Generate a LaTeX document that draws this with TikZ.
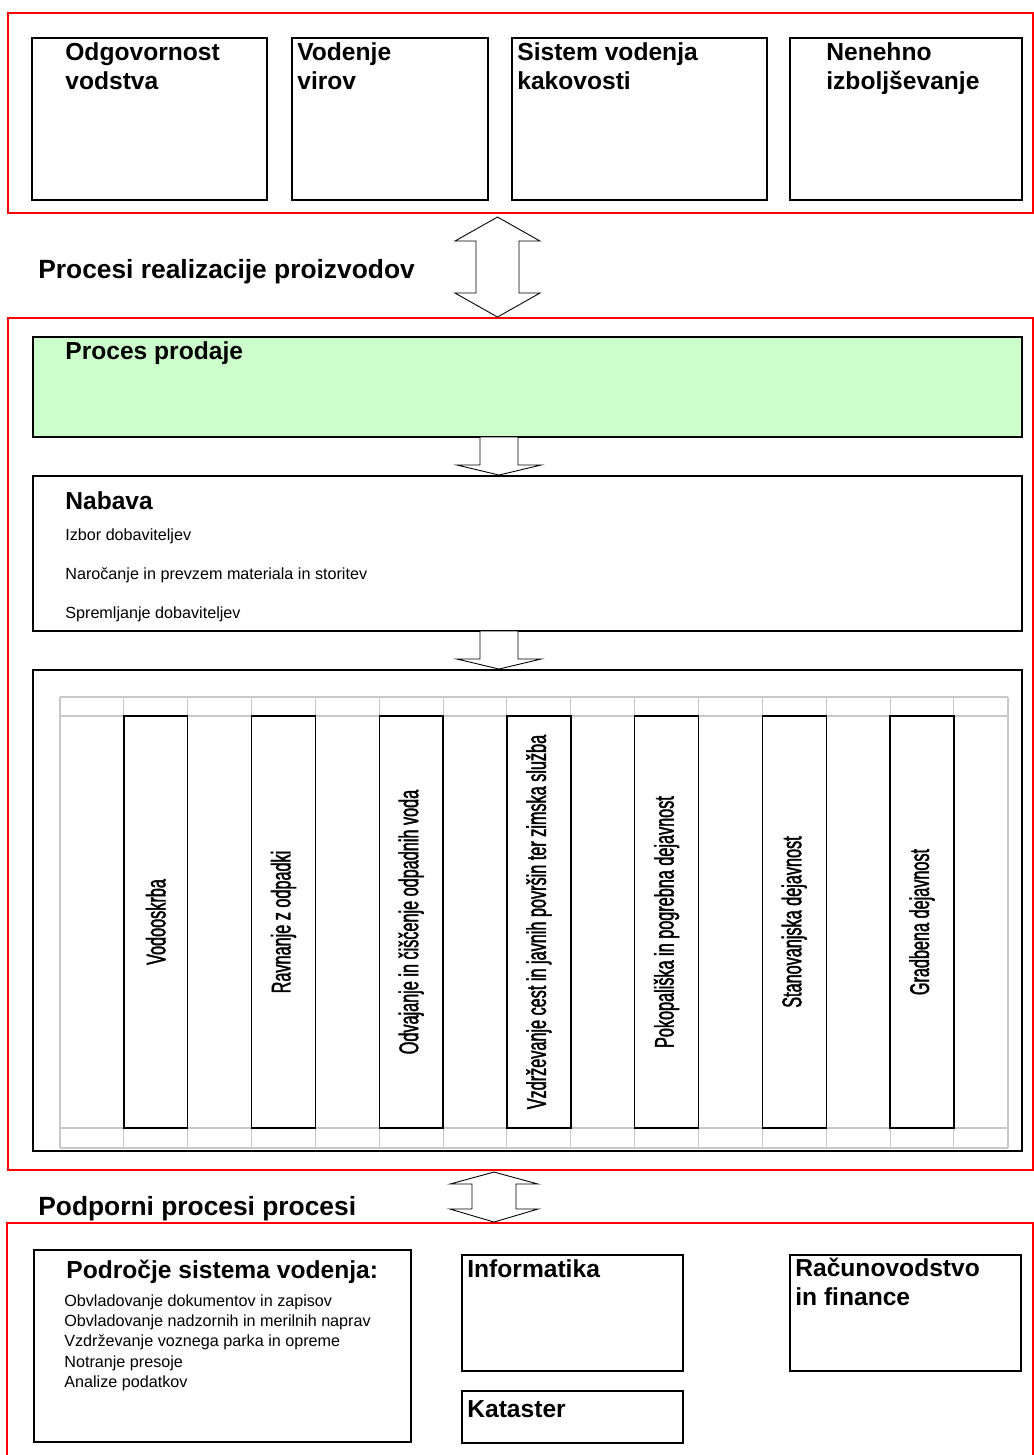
\documentclass[tikz,border=0pt]{standalone}
\usepackage{fontspec}
\setmainfont{Liberation Sans}
\newfontfamily\lanefont[FakeStretch=0.6,FakeBold=1.5]{Liberation Sans}
\usepackage{tikz}
\usetikzlibrary{fit}
\definecolor{prodajagreen}{HTML}{CCFFCC}
\definecolor{gridgray}{HTML}{C8C8C8}

\begin{document}
\begin{tikzpicture}[x=0.02cm,y=-0.02cm,
    frame/.style={draw=red, line width=1.1pt, inner sep=0pt},
    box/.style={draw, line width=1.1pt, inner sep=0pt},
    thinbox/.style={draw, line width=0.6pt, inner sep=0pt},
    lane/.style={draw, line width=0.8pt, inner sep=0pt, minimum width=1.277cm, minimum height=8.24cm},
    head/.style={font=\bfseries\fontsize{14}{16}\selectfont, anchor=base west, align=left, inner sep=0pt},
    title/.style={font=\bfseries\fontsize{15}{18}\selectfont, anchor=base west, inner sep=0pt},
    item/.style={font=\fontsize{9.2}{11}\selectfont, anchor=base west, inner sep=0pt},
    lanetext/.style={font=\lanefont\fontsize{15.4}{18}\selectfont, rotate=90, inner sep=0pt},
    blockarrow/.style={draw, fill=white, line width=0.5pt, line join=miter}]
	\useasboundingbox (0,0) rectangle (1034,1455);
	\clip (0,0) rectangle (1034,1455);

	\node[frame, fit={(8,13) (1033,213)}] (uprava) {};
	\node[frame, fit={(8,318) (1033,1170)}] (realizacija) {};
	\node[frame, fit={(7,1223) (1033,1470)}] (podpora) {};

	\node[box, fit={(32,38) (267,200)}] (odgovornost) {};
	\node[box, fit={(292,38) (488,200)}] (viri) {};
	\node[box, fit={(512,38) (767,200)}] (sistem) {};
	\node[box, fit={(790,38) (1022,200)}] (izboljsevanje) {};
	\node[head] (odgovornosttxt) at (65,89) {Odgovornost\\vodstva};
	\node[head] (viritxt) at (297,89) {Vodenje\\virov};
	\node[head] (sistemtxt) at (517,89) {Sistem vodenja\\kakovosti};
	\node[head] (izboljsevanjetxt) at (826,89) {Nenehno\\izboljševanje};

	\node[title] (realizacijatxt) at (38,278) {Procesi realizacije proizvodov};
	\coordinate (dx) at (497.5,0);
	\draw[blockarrow] (dx |- realizacija.north) -- ++(-42.5,-24) -- ++(21,0) -- ++(0,-52) -- ++(-21,0) -- ++(42.5,-24) -- ++(42.5,24) -- ++(-21,0) -- ++(0,52) -- ++(21,0) -- cycle;

	\node[box, fill=prodajagreen, fit={(33,337) (1022,437)}] (prodaja) {};
	\node[head] (prodajatxt) at (65,359) {Proces prodaje};

	\node[box, fit={(33,476) (1022,631)}] (nabava) {};
	\node[head] (nabavatxt) at (65,509) {Nabava};
	\node[item] (izbor) at (65,540) {Izbor dobaviteljev};
	\node[item] (narocanje) at (65,579) {Naročanje in prevzem materiala in storitev};
	\node[item] (spremljanje) at (65,618) {Spremljanje dobaviteljev};

	\node[box, fit={(33,670) (1022,1151)}] (sluzbe) {};
	\foreach \k in {0,...,14}
		\draw[gridgray, line width=0.6pt] ({60+63.85*\k},697) -- ({60+63.85*\k},1148);
	\draw[gridgray, line width=0.6pt] (1008,697) -- (1008,1148);
	\foreach \y in {697,716,1128,1148}
		\draw[gridgray, line width=0.6pt] (60,\y) -- (1008,\y);
	\foreach \i/\txt in {0/Vodooskrba, 1/Ravnanje z odpadki, 2/Odvajanje in čiščenje odpadnih voda,
		3/Vzdrževanje cest in javnih površin ter zimska služba, 4/Pokopališka in pogrebna dejavnost,
		5/Stanovanjska dejavnost, 6/Gradbena dejavnost} {
		\node[lane, fill=white] (lane\i) at ({155.78+127.7*\i},922) {};
		\node[lanetext] (lanetxt\i) at (lane\i.center) {\txt};
	}

	\coordinate (ax) at (499,0);
	\draw[blockarrow] (ax |- nabava.north) -- ++(-42,-10) -- ++(23,0) -- ++(0,-28) -- ++(38,0) -- ++(0,28) -- ++(23,0) -- cycle;
	\draw[blockarrow] (ax |- sluzbe.north) -- ++(-42,-10) -- ++(23,0) -- ++(0,-28) -- ++(38,0) -- ++(0,28) -- ++(23,0) -- cycle;

	\node[title] (podporatxt) at (38,1215) {Podporni procesi procesi};
	\coordinate (px) at (494,0);
	\draw[blockarrow] (px |- podpora.north) -- ++(-44,-13) -- ++(22,0) -- ++(0,-25) -- ++(-22,0) -- ++(44,-12) -- ++(44,12) -- ++(-22,0) -- ++(0,25) -- ++(22,0) -- cycle;

	\node[thinbox, fit={(34,1250) (411,1442)}] (podrocje) {};
	\node[head] (podrocjetxt) at (66,1278) {Področje sistema vodenja:};
	\foreach \i/\txt in {0/Obvladovanje dokumentov in zapisov, 1/Obvladovanje nadzornih in merilnih naprav,
		2/Vzdrževanje voznega parka in opreme, 3/Notranje presoje, 4/Analize podatkov}
		\node[item] (podrocje\i) at (64,{1306+20.4*\i}) {\txt};

	\node[box, fit={(462,1255) (683,1371)}] (informatika) {};
	\node[head] (informatikatxt) at (467,1277) {Informatika};
	\node[box, fit={(462,1391) (683,1443)}] (kataster) {};
	\node[head] (katastertxt) at (467,1417) {Kataster};
	\node[box, fit={(790,1255) (1021,1371)}] (racunovodstvo) {};
	\node[head] (racunovodstvotxt) at (795,1305) {Računovodstvo\\in finance};
\end{tikzpicture}
\end{document}
